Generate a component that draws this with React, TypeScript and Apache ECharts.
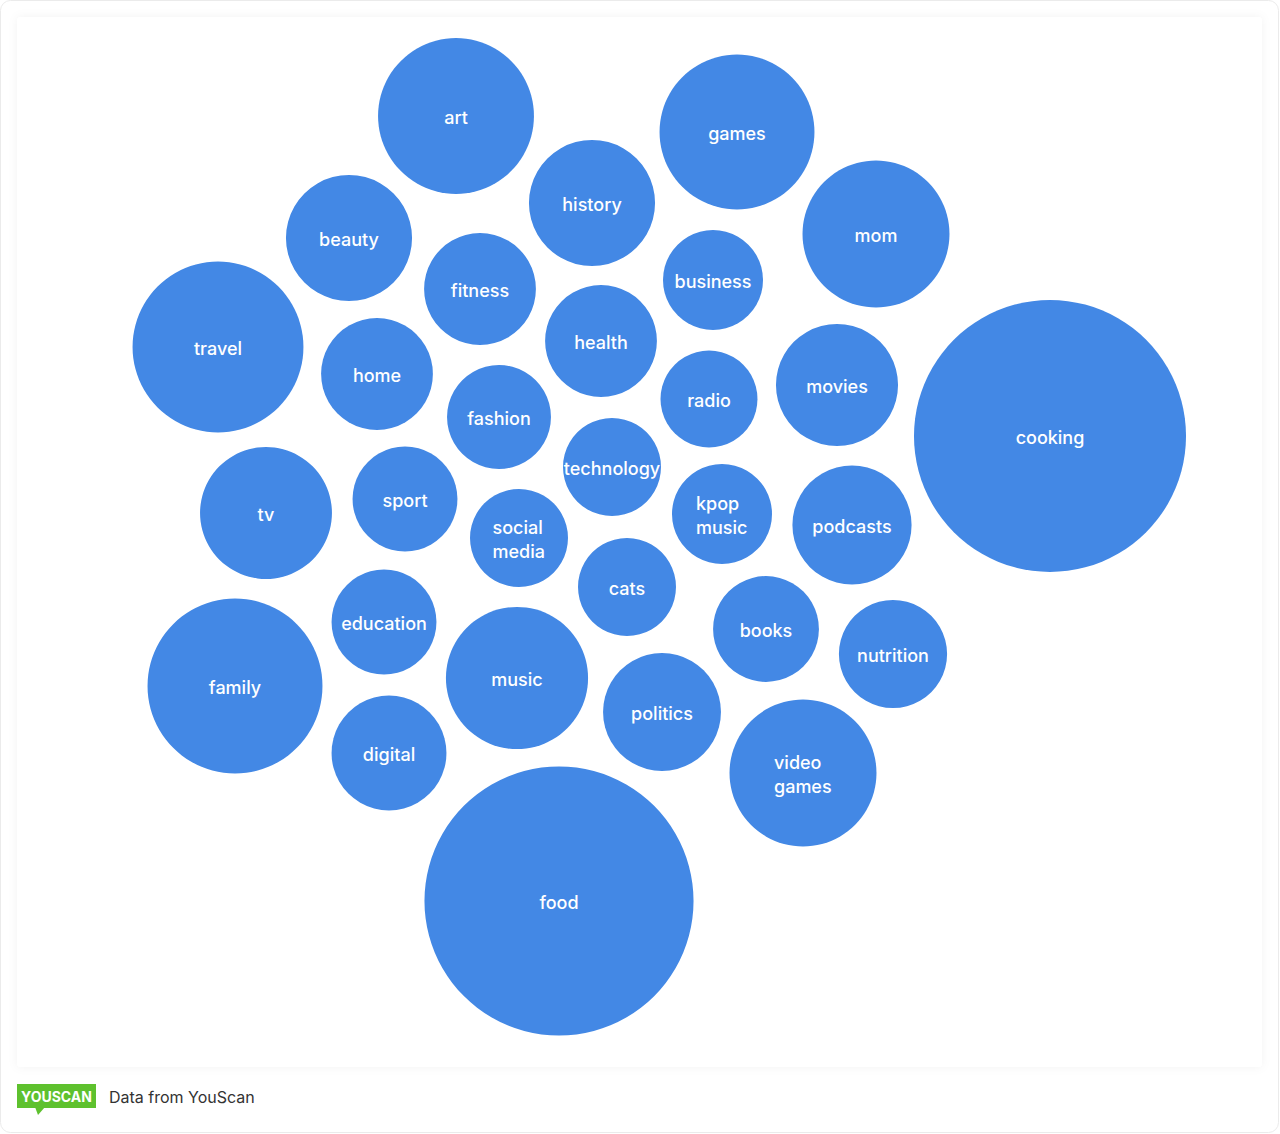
import React, { useEffect, useRef } from "react";
import * as echarts from "echarts";

const topics = [
  "art", "games", "history", "beauty", "mom", "business", "fitness", "travel",
  "health", "home", "radio", "movies", "cooking", "fashion", "technology", "tv",
  "sport", "social media", "kpop music", "podcasts", "cats", "education", "books",
  "nutrition", "family", "music", "politics", "digital", "video games", "food",
];
// layout coordinates of bubble centres
const posX = [456, 737, 592, 349, 876, 713, 480, 218, 601, 377, 709, 837, 1050, 499, 612, 266, 405, 519, 722, 852, 627, 384, 766, 893, 235, 517, 662, 389, 803, 559];
const posY = [116, 132, 203, 238, 234, 280, 289, 347, 341, 374, 399, 385, 436, 417, 467, 513, 499, 538, 514, 525, 587, 622, 629, 654, 686, 678, 712, 753, 773, 901];
// mention volume (bubble area)
const mentions = [243, 240, 159, 159, 216, 100, 125, 292, 125, 125, 94, 149, 740, 108, 96, 174, 110, 96, 100, 142, 96, 110, 112, 117, 306, 202, 139, 132, 216, 724];

const BLUE = "#4388E5";
const FONT = "Inter, 'Noto Sans', sans-serif";
const LABEL_FONT = "500 18px " + FONT;

function measure(text: string): number {
  const c = document.createElement("canvas").getContext("2d");
  if (!c) return text.length * 10;
  c.font = LABEL_FONT;
  return Math.ceil(c.measureText(text).width);
}

const richStyles: Record<string, any> = {};
function labelText(name: string): string {
  const parts = name.split(" ");
  if (parts.length === 1) return name;
  const w = Math.max(...parts.map(measure));
  const key = "w" + w;
  richStyles[key] = {
    color: "#ffffff",
    fontFamily: FONT,
    fontSize: 18,
    fontWeight: 500,
    lineHeight: 24,
    width: w,
    align: "left",
  };
  return parts.map((p) => "{" + key + "|" + p + "}").join("\n");
}

export default function App() {
  const ref = useRef<HTMLDivElement>(null);
  useEffect(() => {
    if (!ref.current) return;
    const chart = echarts.init(ref.current, null, { renderer: "svg" });
    const labels = topics.map(labelText);
    const data = topics.map((t, i) => ({
      name: t,
      value: [posX[i], posY[i], mentions[i]],
      label: { formatter: labels[i] },
    }));
    chart.setOption({
      animation: false,
      backgroundColor: "#ffffff",
      grid: { left: 0, right: 0, top: 0, bottom: 0 },
      xAxis: { type: "value", min: 0, max: 1280, show: false },
      yAxis: { type: "value", min: 0, max: 1134, inverse: true, show: false },
      graphic: [
        {
          type: "rect",
          z: -10,
          silent: true,
          shape: { x: 0.5, y: 0.5, width: 1278, height: 1132, r: 10 },
          style: { fill: "#ffffff", stroke: "#ebebeb", lineWidth: 1 },
        },
        {
          type: "rect",
          z: -9,
          silent: true,
          shape: { x: 17, y: 17, width: 1245, height: 1050, r: 4 },
          style: { fill: "#ffffff", shadowBlur: 10, shadowColor: "rgba(0,0,0,0.05)" },
        },
        {
          type: "rect",
          shape: { x: 17, y: 1084, width: 79, height: 24 },
          style: { fill: "#5EC12E" },
        },
        {
          type: "polygon",
          shape: { points: [[35, 1107], [45, 1107], [38, 1115]] },
          style: { fill: "#5EC12E" },
        },
        {
          type: "text",
          x: 56.5,
          y: 1096,
          style: {
            text: "YOUSCAN",
            fill: "#ffffff",
            font: "bold 14px " + FONT,
            textAlign: "center",
            textVerticalAlign: "middle",
          },
        },
        {
          type: "text",
          x: 109,
          y: 1097,
          style: {
            text: "Data from YouScan",
            fill: "#333333",
            font: "16px " + FONT,
            textAlign: "left",
            textVerticalAlign: "middle",
          },
        },
      ],
      series: [
        {
          type: "scatter",
          data,
          symbol: "circle",
          symbolSize: (v: number[]) => Math.sqrt(v[2]) * 10,
          itemStyle: { color: BLUE, opacity: 1 },
          emphasis: { disabled: true },
          label: {
            show: true,
            position: "inside",
            offset: [0, 1],
            color: "#ffffff",
            fontFamily: FONT,
            fontSize: 18,
            fontWeight: 500,
            lineHeight: 24,
            rich: richStyles,
          },
        },
      ],
    });
    return () => chart.dispose();
  }, []);
  return (
    <div
      ref={ref}
      style={{ position: "absolute", left: 0, top: 0, width: 1280, height: 1134 }}
    />
  );
}
